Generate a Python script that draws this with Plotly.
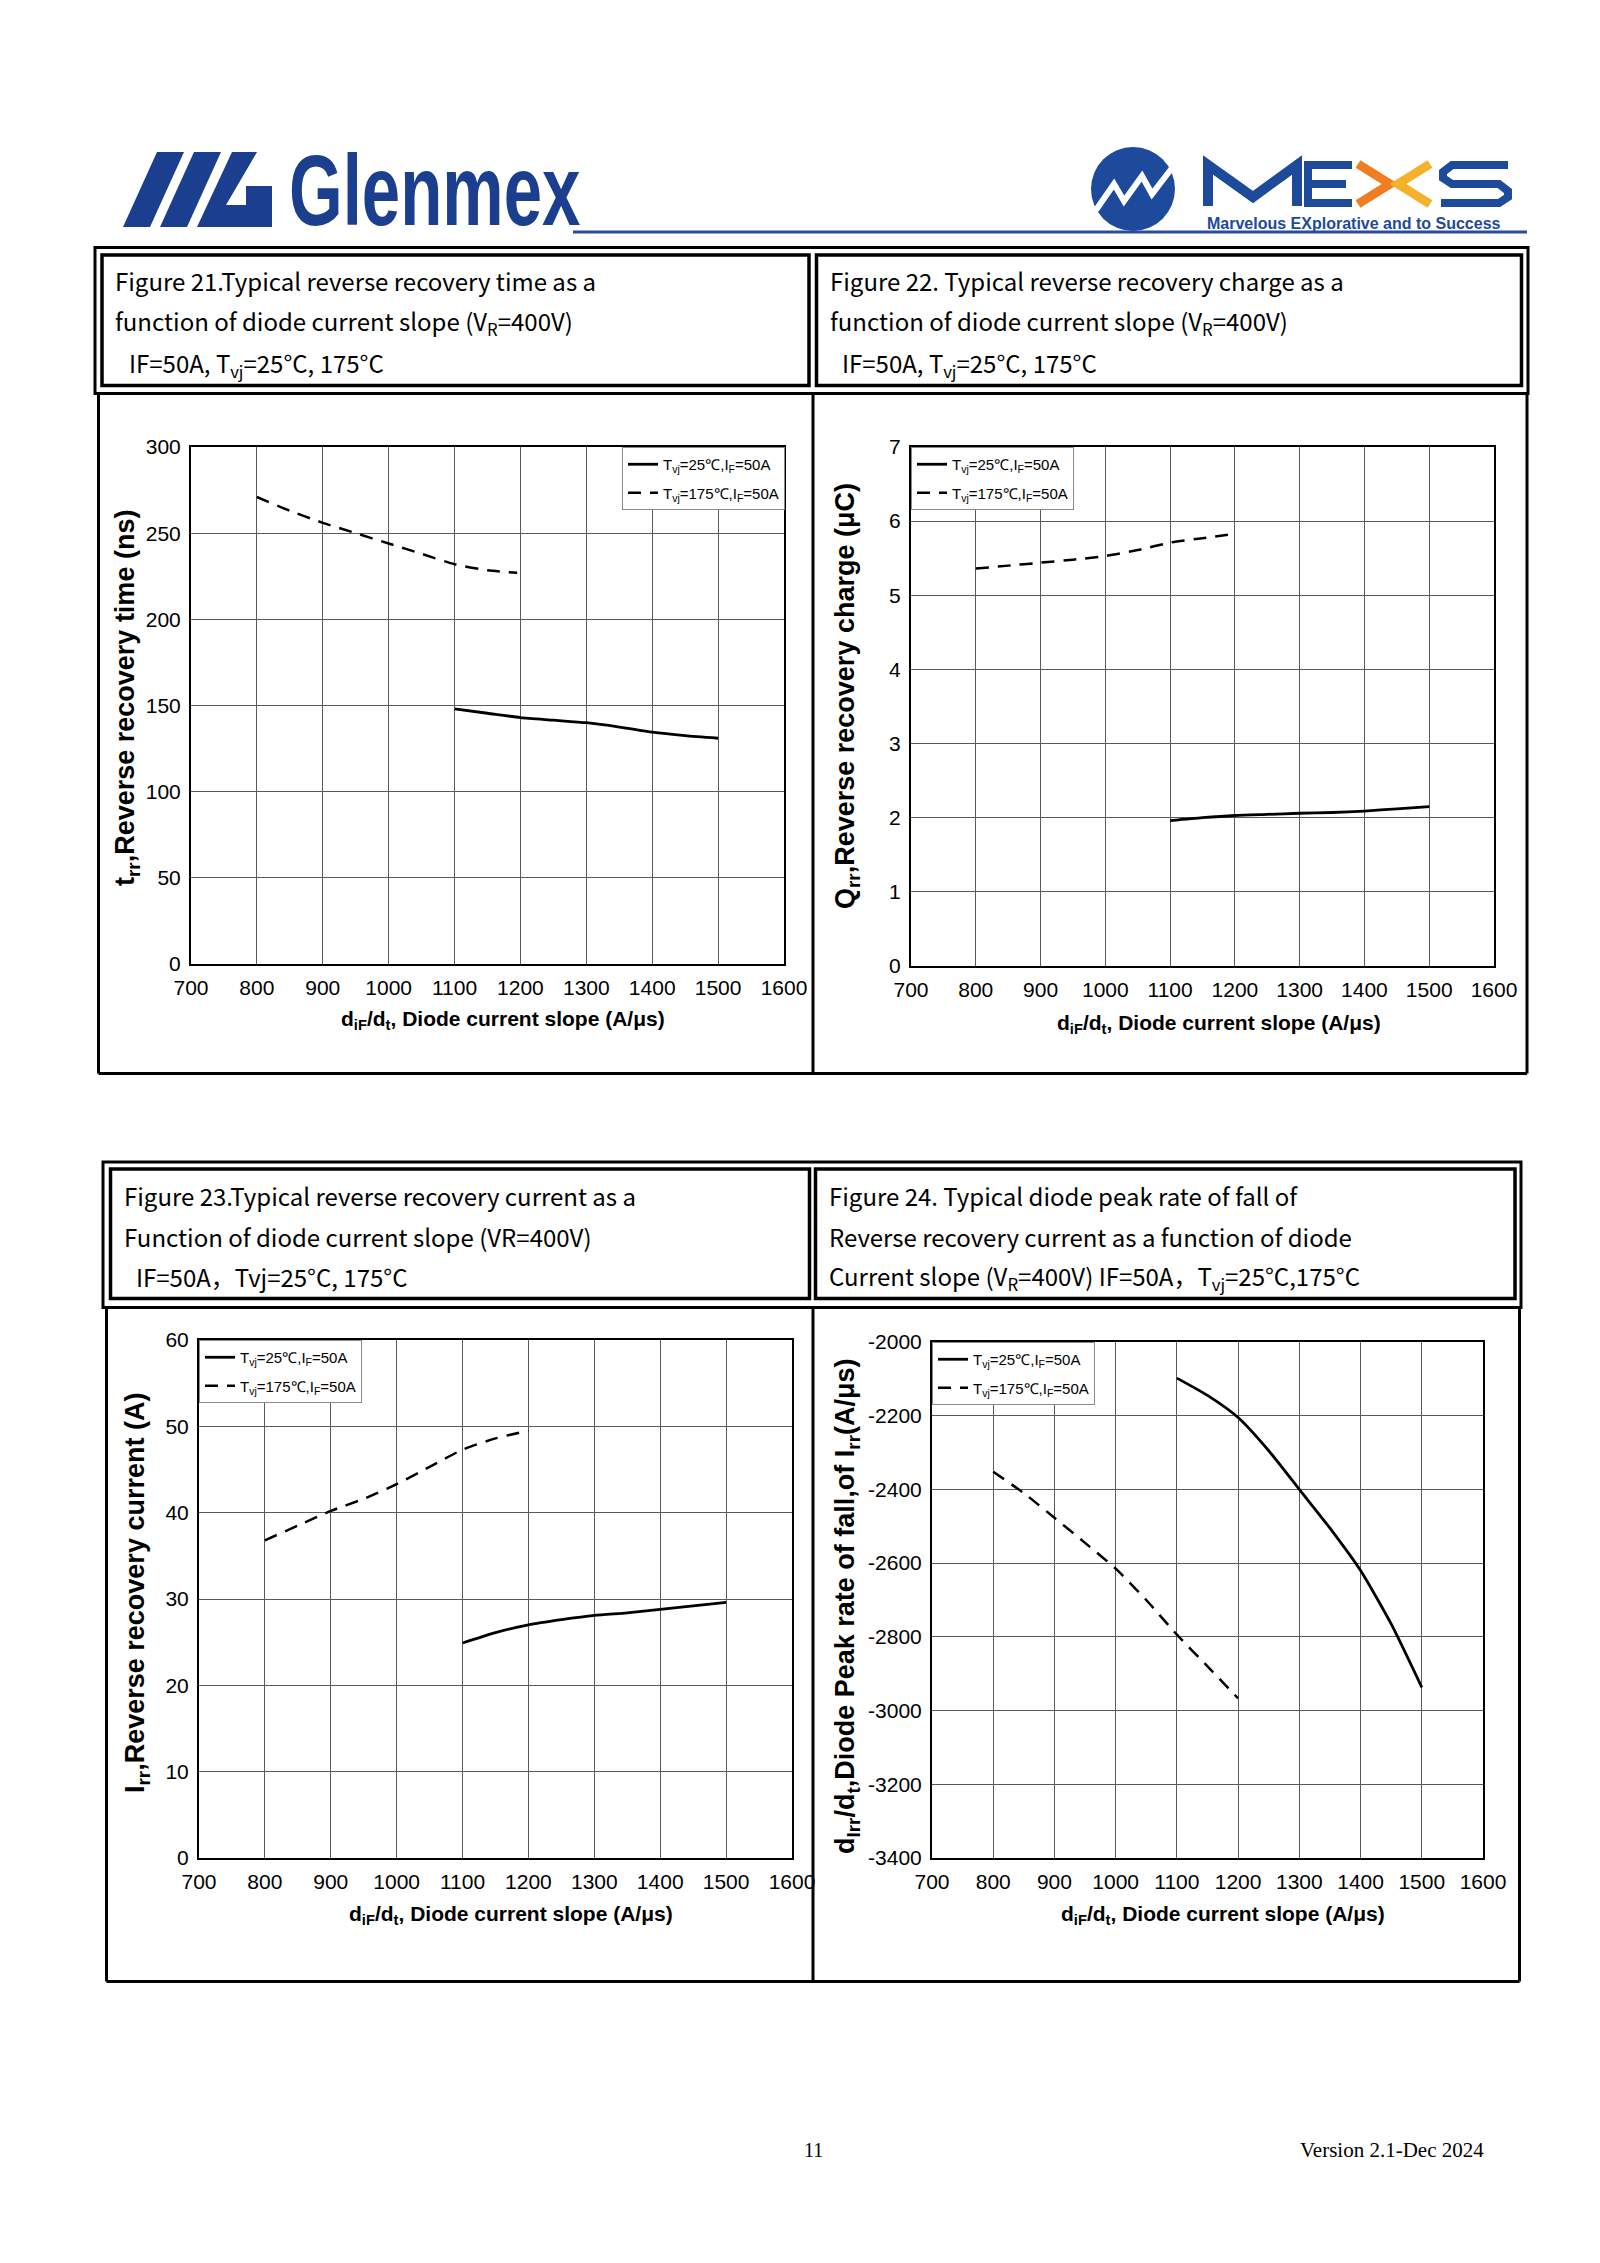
import plotly.graph_objects as go

W, H = 1600, 2263

# ---------------- data ----------------
x_ticks = [700, 800, 900, 1000, 1100, 1200, 1300, 1400, 1500, 1600]
legend_25 = "T<sub>vj</sub>=25℃,I<sub>F</sub>=50A"
legend_175 = "T<sub>vj</sub>=175℃,I<sub>F</sub>=50A"

# Figure 21: reverse recovery time (ns)
trr_x_25 = [1100, 1150, 1200, 1250, 1300, 1350, 1400, 1450, 1500]
trr_y_25 = [148, 145.5, 143, 141.5, 140, 137.5, 134.5, 132.5, 131]
trr_x_175 = [800, 850, 900, 950, 1000, 1050, 1100, 1150, 1195]
trr_y_175 = [271, 263, 256, 250, 244, 238, 232, 228.5, 227]
trr_ticks = [0, 50, 100, 150, 200, 250, 300]

# Figure 22: reverse recovery charge (uC)
qrr_x_25 = [1100, 1150, 1200, 1250, 1300, 1350, 1400, 1450, 1500]
qrr_y_25 = [1.96, 2.0, 2.03, 2.045, 2.06, 2.07, 2.09, 2.12, 2.15]
qrr_x_175 = [800, 850, 900, 950, 1000, 1050, 1100, 1150, 1200]
qrr_y_175 = [5.36, 5.40, 5.44, 5.48, 5.53, 5.61, 5.71, 5.77, 5.83]
qrr_ticks = [0, 1, 2, 3, 4, 5, 6, 7]

# Figure 23: reverse recovery current (A)
irr_x_25 = [1100, 1150, 1200, 1250, 1300, 1350, 1400, 1450, 1500]
irr_y_25 = [24.9, 26.1, 27.0, 27.6, 28.1, 28.4, 28.8, 29.2, 29.6]
irr_x_175 = [800, 850, 900, 950, 1000, 1050, 1100, 1150, 1200]
irr_y_175 = [36.8, 38.5, 40.2, 41.6, 43.3, 45.3, 47.3, 48.6, 49.5]
irr_ticks = [0, 10, 20, 30, 40, 50, 60]

# Figure 24: peak rate of fall of Irr (A/us)
dirr_x_25 = [1100, 1150, 1200, 1250, 1300, 1350, 1400, 1450, 1500]
dirr_y_25 = [-2098, -2145, -2205, -2295, -2400, -2505, -2620, -2765, -2937]
dirr_x_175 = [800, 850, 900, 950, 1000, 1050, 1100, 1150, 1200]
dirr_y_175 = [-2352, -2410, -2477, -2545, -2615, -2700, -2794, -2880, -2967]
dirr_ticks = [-3400, -3200, -3000, -2800, -2600, -2400, -2200, -2000]
dirr_ticktext = ["-3400", "-3200", "-3000", "-2800", "-2600", "-2400", "-2200", "-2000"]

x_title = "d<sub>iF</sub>/d<sub>t</sub>, Diode current slope (A/μs)"
y_titles = [
    "t<sub>rr</sub>,Reverse recovery time (ns)",
    "Q<sub>rr</sub>,Reverse recovery charge (μC)",
    "I<sub>rr</sub>,Reverse recovery current (A)",
    "d<sub>Irr</sub>/d<sub>t</sub>,Diode Peak rate of fall,of I<sub>rr</sub>(A/μs)",
]

title_lines = [
    # (x px, baseline px, text)
    (113, 288, "Figure 21.Typical reverse recovery time as a"),
    (113, 330, "function of diode current slope (V<sub>R</sub>=400V)"),
    (127, 372, "IF=50A, T<sub>vj</sub>=25°C, 175°C"),
    (828, 288, "Figure 22. Typical reverse recovery charge as a"),
    (828, 330, "function of diode current slope (V<sub>R</sub>=400V)"),
    (840, 372, "IF=50A, T<sub>vj</sub>=25°C, 175°C"),
    (122, 1203, "Figure 23.Typical reverse recovery current as a"),
    (122, 1244, "Function of diode current slope (VR=400V)"),
    (134, 1285, "IF=50A，Tvj=25°C, 175°C"),
    (827, 1203, "Figure 24. Typical diode peak rate of fall of"),
    (827, 1244, "Reverse recovery current as a function of diode"),
    (827, 1285, "Current slope (V<sub>R</sub>=400V) IF=50A，T<sub>vj</sub>=25°C,175°C"),
]

# ---------------- helpers ----------------
def px(x):
    return x / W


def py(y):
    return 1 - y / H


fig = go.Figure()

plots = [
    # (left, top, right, bottom) in page px
    (191, 447, 784, 964),
    (911, 447, 1494, 966),
    (199, 1340, 792, 1858),
    (932, 1342, 1483, 1858),
]
series = [
    (trr_x_25, trr_y_25, trr_x_175, trr_y_175),
    (qrr_x_25, qrr_y_25, qrr_x_175, qrr_y_175),
    (irr_x_25, irr_y_25, irr_x_175, irr_y_175),
    (dirr_x_25, dirr_y_25, dirr_x_175, dirr_y_175),
]
yranges = [[0, 300], [0, 7], [0, 60], [-3400, -2000]]
yticks = [trr_ticks, qrr_ticks, irr_ticks, dirr_ticks]
yticktexts = [None, None, None, dirr_ticktext]
legend_pos = [(622, 447), (911, 447), (199, 1340), (932, 1342)]
xtitle_pos = [(503, 1020), (1219, 1024), (511, 1915), (1223, 1915)]
ytitle_pos = [(127, 698), (847, 696), (137, 1593), (847, 1606)]
ytitle_size = [27, 27, 27, 27]

tick_font = dict(family="Liberation Sans, Arial, sans-serif", size=21, color="black")
legend_font = dict(family="Liberation Sans, Arial, sans-serif", size=15, color="black")

annotations = []

for i in range(4):
    n = "" if i == 0 else str(i + 1)
    xa, ya = "x" + n, "y" + n
    lg = "legend" + n
    x25, y25, x175, y175 = series[i]
    fig.add_trace(go.Scatter(
        x=x25, y=y25, xaxis=xa, yaxis=ya, mode="lines", name=legend_25,
        line=dict(color="black", width=2.8, shape="spline", smoothing=0.6),
        legend=lg, legendgroup="a" + n, showlegend=True))
    fig.add_trace(go.Scatter(
        x=x175, y=y175, xaxis=xa, yaxis=ya, mode="lines", name=legend_175,
        line=dict(color="black", width=2.5, dash="13px,9px", shape="spline", smoothing=0.6),
        legend=lg, legendgroup="b" + n, showlegend=True))

    l, t, r, b = plots[i]
    axis_common = dict(
        showline=True, mirror=True, linecolor="black", linewidth=2,
        showgrid=True, gridcolor="#5a5a5a", gridwidth=1, zeroline=False,
        ticks="", tickfont=tick_font, fixedrange=True, automargin=False,
    )
    xaxis = dict(axis_common, domain=[px(l), px(r)], anchor=ya, range=[700, 1600],
                 tickmode="array", tickvals=x_ticks, ticklabelstandoff=4)
    yaxis = dict(axis_common, domain=[py(b), py(t)], anchor=xa, range=yranges[i],
                 tickmode="array", tickvals=yticks[i], ticklabelstandoff=4)
    if yticktexts[i] is not None:
        yaxis["ticktext"] = yticktexts[i]
    fig.update_layout(**{"xaxis" + n: xaxis, "yaxis" + n: yaxis})

    lx, ly = legend_pos[i]
    fig.update_layout(**{lg: dict(
        x=px(lx), y=py(ly), xanchor="left", yanchor="top",
        bgcolor="white", bordercolor="#8a8a8a", borderwidth=1,
        font=legend_font, traceorder="grouped", tracegroupgap=6,
        itemwidth=30,
    )})

    tx, ty = xtitle_pos[i]
    annotations.append(dict(
        x=px(tx), y=py(ty), xref="paper", yref="paper", showarrow=False,
        text=x_title, xanchor="center", yanchor="middle",
        font=dict(family="Liberation Sans, Arial, sans-serif", size=21, color="black", weight="bold")))
    yx, yy = ytitle_pos[i]
    annotations.append(dict(
        x=px(yx), y=py(yy), xref="paper", yref="paper", showarrow=False,
        text=y_titles[i], textangle=-90, xanchor="center", yanchor="middle",
        font=dict(family="Liberation Sans, Arial, sans-serif", size=ytitle_size[i], color="black", weight="bold")))

# figure captions
for (tx, base, txt) in title_lines:
    annotations.append(dict(
        x=px(tx), y=py(base - 8), xref="paper", yref="paper", showarrow=False,
        text=txt, xanchor="left", yanchor="middle",
        font=dict(family="Noto Sans CJK SC, Noto Sans, sans-serif", size=24, color="black")))

# header
annotations.append(dict(
    x=px(287), y=py(190), xref="paper", yref="paper", showarrow=False,
    text="Glenmex", xanchor="left", yanchor="middle",
    font=dict(family="Liberation Sans, Arial, sans-serif",
              size=100, color="#1b3f8e", weight="bold")))
annotations.append(dict(
    x=px(1205), y=py(224), xref="paper", yref="paper", showarrow=False,
    text="Marvelous EXplorative and to Success", xanchor="left", yanchor="middle",
    font=dict(family="Liberation Sans, Arial, sans-serif",
              size=16, color="#1d4a9a", weight="bold")))

# footer
annotations.append(dict(
    x=px(813), y=py(2150), xref="paper", yref="paper", showarrow=False,
    text="11", xanchor="center", yanchor="middle",
    font=dict(family="Liberation Serif, Times New Roman, serif", size=20, color="black")))
annotations.append(dict(
    x=px(1486), y=py(2150), xref="paper", yref="paper", showarrow=False,
    text="Version 2.1-Dec 2024", xanchor="right", yanchor="middle",
    font=dict(family="Liberation Serif, Times New Roman, serif", size=21, color="black")))

# ---------------- shapes ----------------
shapes = []


def rect(x0, y0, x1, y1, w=3, color="black"):
    shapes.append(dict(type="rect", xref="paper", yref="paper",
                       x0=px(x0), x1=px(x1), y0=py(y0), y1=py(y1),
                       line=dict(color=color, width=w), fillcolor="rgba(0,0,0,0)", layer="above"))


def line(x0, y0, x1, y1, w=3, color="black"):
    shapes.append(dict(type="line", xref="paper", yref="paper",
                       x0=px(x0), x1=px(x1), y0=py(y0), y1=py(y1),
                       line=dict(color=color, width=w), layer="above"))


def poly(points, fill, color=None, w=0):
    d = "M " + " L ".join(f"{px(a)},{py(b)}" for a, b in points) + " Z"
    shapes.append(dict(type="path", xref="paper", yref="paper", path=d,
                       fillcolor=fill, line=dict(color=color or fill, width=w), layer="above"))


def polyline(points, color, w):
    d = "M " + " L ".join(f"{px(a)},{py(b)}" for a, b in points)
    shapes.append(dict(type="path", xref="paper", yref="paper", path=d,
                       fillcolor="rgba(0,0,0,0)", line=dict(color=color, width=w), layer="above"))


# table 1
rect(95, 247.5, 1528, 393.5, 3)
rect(102, 255, 809, 385.5, 3.5)
rect(816.5, 255, 1521.5, 385.5, 3.5)
line(98.5, 393.5, 98.5, 1073.5, 3)
line(98.5, 1073.5, 1527, 1073.5, 3)
line(1527, 393.5, 1527, 1073.5, 3)
line(813, 393.5, 813, 1073.5, 3)

# table 2
rect(103, 1162, 1521, 1307.5, 3)
rect(110.5, 1169, 809.5, 1298.5, 3.5)
rect(815.5, 1169, 1515, 1298.5, 3.5)
line(106.5, 1307.5, 106.5, 1981.5, 3)
line(106.5, 1981.5, 1519.5, 1981.5, 3)
line(1519.5, 1307.5, 1519.5, 1981.5, 3)
line(813, 1307.5, 813, 1981.5, 3)

# header rule
line(573, 232, 1527, 232, 3, "#2b4c9b")

# Glenmex "MG" mark
blue = "#1b3f8e"
poly([(123, 227), (150, 227), (184, 152), (157, 152)], blue)
poly([(160, 227), (187, 227), (221, 152), (194, 152)], blue)
poly([(197, 227), (272, 227), (272, 186), (246, 186), (246, 205), (226, 205), (257, 152), (232, 152)], blue)

# MEXS mark
shapes.append(dict(type="circle", xref="paper", yref="paper",
                   x0=px(1091), x1=px(1175), y0=py(231), y1=py(147),
                   fillcolor="#1d4a9a", line=dict(color="#1d4a9a", width=0), layer="above"))
polyline([(1096, 210), (1114, 184), (1124, 201), (1142, 176), (1152, 194), (1172, 168)], "white", 6)
mblue = "#1d4a9a"
polyline([(1208, 206), (1208, 165), (1253, 197), (1297, 165), (1297, 206)], mblue, 10)
polyline([(1352, 165), (1308, 165), (1308, 203), (1352, 203)], mblue, 8)
line(1308, 184, 1346, 184, 8, mblue)
polyline([(1358, 164), (1390, 184), (1358, 204)], "#ef7d22", 9)
polyline([(1430, 164), (1398, 184), (1430, 204)], "#f6b12c", 9)
polyline([(1508, 165), (1452, 165), (1443, 172), (1443, 178), (1452, 184), (1499, 184),
          (1508, 191), (1508, 197), (1499, 203), (1441, 203)], mblue, 8)

fig.update_layout(
    width=W, height=H,
    margin=dict(l=0, r=0, t=0, b=0, pad=0, autoexpand=False),
    paper_bgcolor="white", plot_bgcolor="white",
    annotations=annotations, shapes=shapes,
)

post = """
document.body.style.margin='0';
document.body.style.overflow='hidden';
function squeezeLogo(){
  document.querySelectorAll('text.annotation-text').forEach(function(t){
    if (t.textContent === 'Glenmex') {
      t.style.transformBox = 'fill-box';
      t.style.transformOrigin = '0% 50%';
      t.style.transform = 'scaleX(0.69)';
    }
  });
}
squeezeLogo();
var gdl = document.getElementById('{plot_id}');
if (gdl && gdl.on) { gdl.on('plotly_afterplot', squeezeLogo); }
"""

fig.write_html("out.html", post_script=post, config={"displayModeBar": False})
